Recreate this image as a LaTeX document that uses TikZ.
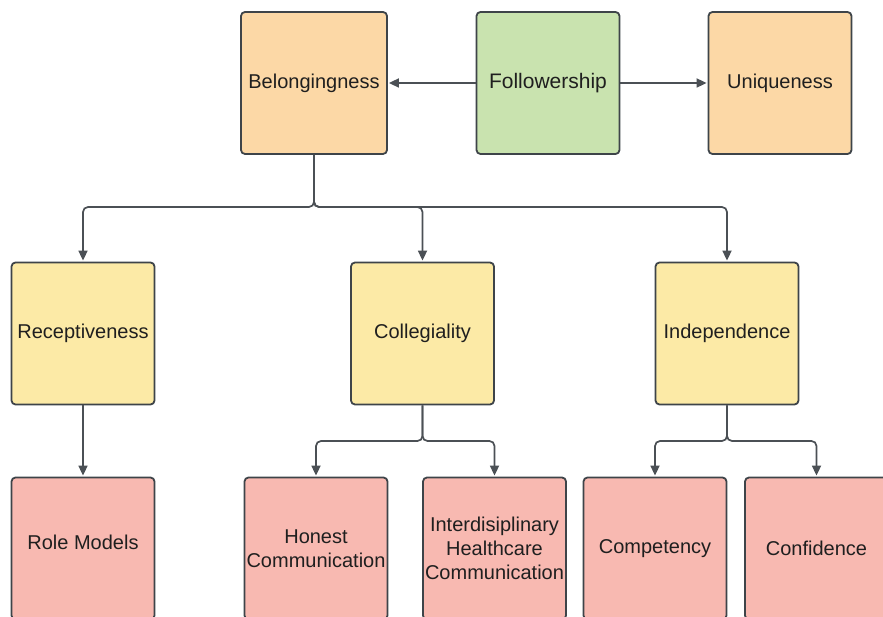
\documentclass[tikz,border=0pt]{standalone}
\usepackage{fontspec}
\setmainfont{Liberation Sans}
\usetikzlibrary{arrows.meta}
\definecolor{orangefill}{HTML}{FCD8A6}
\definecolor{greenfill}{HTML}{C9E3AF}
\definecolor{yellowfill}{HTML}{FCEAA6}
\definecolor{pinkfill}{HTML}{F8B9B1}
\definecolor{edgegray}{HTML}{3E4449}
\definecolor{linkgray}{HTML}{4B5055}
\begin{document}
\begin{tikzpicture}[x=1pt,y=-1pt,
  box/.style={draw=edgegray, line width=1.8pt, rounded corners=4pt,
    minimum width=143pt, minimum height=142pt, inner sep=0pt,
    align=center, font=\fontsize{20}{24}\selectfont, text=black!88},
  top/.style={box, fill=orangefill},
  root/.style={box, fill=greenfill, font=\fontsize{21}{25}\selectfont},
  mid/.style={box, fill=yellowfill},
  leaf/.style={box, fill=pinkfill},
  link/.style={draw=linkgray, line width=1.7pt, rounded corners=5pt,
    -{Triangle[length=10pt,width=9pt]}, shorten >=1pt},
]
\useasboundingbox (0,0) rectangle (883,617);
\clip (0,0) rectangle (883,617);
\fill[white] (0,0) rectangle (883,617);

% top row
\node[top, minimum width=146pt] (belong) at (314,83) {\raisebox{3pt}{Belongingness}};
\node[root] (follow) at (548,83) {Followership};
\node[top] (unique) at (780,83) {\raisebox{3pt}{Uniqueness}};

% middle row
\node[mid] (recept) at (83,333.5) {Receptiveness};
\node[mid] (colleg) at (422.5,333.5) {Collegiality};
\node[mid] (indep) at (727,333.5) {Independence};

% bottom row
\node[leaf] (role) at (83,548.5) {\raisebox{12pt}{Role Models}};
\node[leaf] (honest) at (316,548.5) {Honest\\Communication};
\node[leaf] (inter) at (494.5,548.5) {Interdisiplinary\\Healthcare\\Communication};
\node[leaf] (compet) at (655,548.5) {Competency};
\node[leaf] (confid) at (816.5,548.5) {Confidence};

% branch points
\coordinate (busB) at (314,207);
\coordinate (busC) at (422.5,441);
\coordinate (busI) at (727,441);

% connectors
\draw[link] (follow.west) -- (belong.east);
\draw[link] (follow.east) -- (unique.west);

\draw[link] (belong.south) -- (busB) -| (recept.north);
\draw[link] (belong.south) -- (busB) -| (colleg.north);
\draw[link] (belong.south) -- (busB) -| (indep.north);

\draw[link] (recept.south) -- (role.north);

\draw[link] (colleg.south) -- (busC) -| (honest.north);
\draw[link] (colleg.south) -- (busC) -| (inter.north);

\draw[link] (indep.south) -- (busI) -| (compet.north);
\draw[link] (indep.south) -- (busI) -| (confid.north);
\end{tikzpicture}
\end{document}
